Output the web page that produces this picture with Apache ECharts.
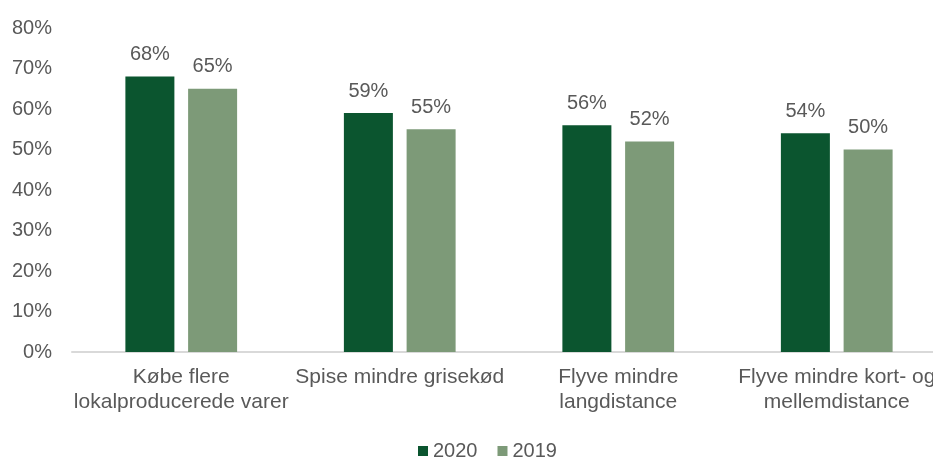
<!DOCTYPE html>
<html><head><meta charset="utf-8">
<script src="https://cdn.jsdelivr.net/npm/echarts@6/dist/echarts.min.js"></script>
<style>html,body{margin:0;padding:0;background:#fff}#c{width:933px;height:460px}</style>
</head><body><div id="c"></div>
<script>
const categories = ["Købe flere\nlokalproducerede varer", "Spise mindre grisekød", "Flyve mindre\nlangdistance", "Flyve mindre kort- og\nmellemdistance"];
const seriesNames = ["2020", "2019"];
const values2020 = [68, 59, 56, 54];
const values2019 = [65, 55, 52, 50];
const yTicks = [0, 10, 20, 30, 40, 50, 60, 70, 80];

const font = "'Liberation Sans', Arial, sans-serif";
const txt = "#595959";
const chart = echarts.init(document.getElementById('c'), null, {renderer: 'canvas'});
const lbl = {show: true, position: 'top', distance: 12, formatter: p => p.value + '%', color: txt, fontSize: 20, fontFamily: font};
chart.setOption({
  animation: false,
  grid: {left: 72, right: -13, top: 28, bottom: 108, containLabel: false, outerBoundsMode: 'none'},
  legend: {top: 436, left: 413, itemWidth: 10, itemHeight: 10, itemGap: 20,
    textStyle: {color: txt, fontSize: 20, fontFamily: font}, icon: 'rect', data: seriesNames},
  xAxis: {type: 'category', data: categories,
    axisLine: {lineStyle: {color: '#d9d9d9', width: 2}}, axisTick: {show: false},
    axisLabel: {color: txt, fontSize: 21, fontFamily: font, margin: 13, lineHeight: 25, interval: 0}},
  yAxis: {type: 'value', min: yTicks[0], max: yTicks[yTicks.length - 1], interval: 10,
    splitLine: {show: false}, axisLine: {show: false}, axisTick: {show: false},
    axisLabel: {formatter: v => v + '%', color: txt, fontSize: 20, fontFamily: font, margin: 20}},
  series: [
    {name: seriesNames[0], type: 'bar', data: values2020, barWidth: 49, barGap: '28%', itemStyle: {color: '#0b552f'}, label: lbl},
    {name: seriesNames[1], type: 'bar', data: values2019, barWidth: 49, itemStyle: {color: '#7d9a78'}, label: lbl}
  ]
});
</script></body></html>
